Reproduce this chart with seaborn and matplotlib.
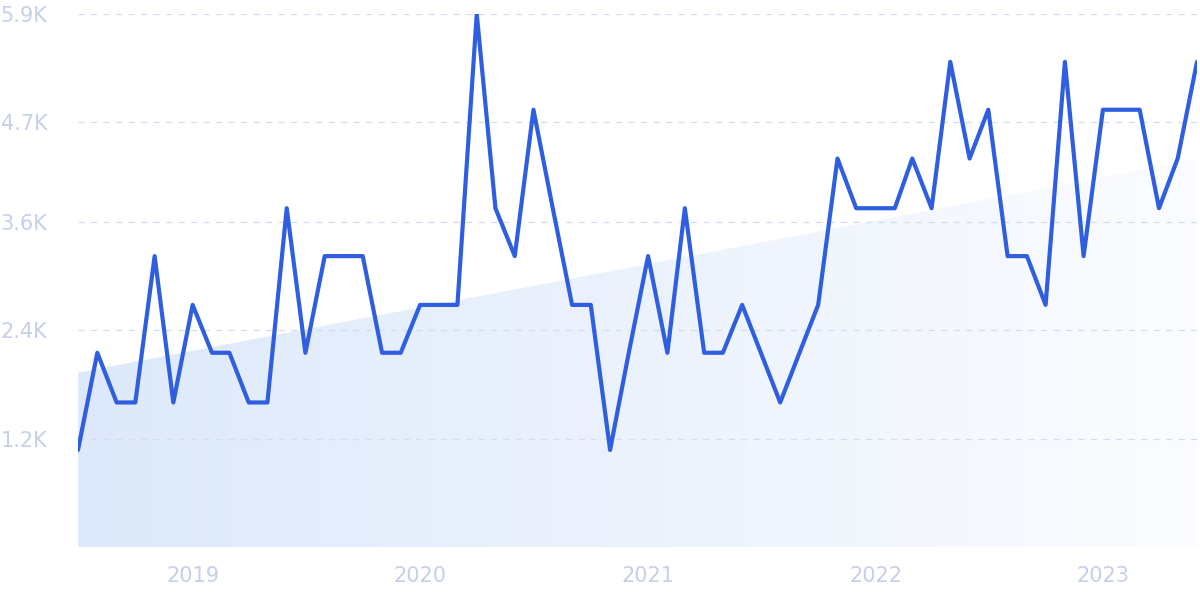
import numpy as np
import pandas as pd
import matplotlib
matplotlib.use("Agg")
import matplotlib.pyplot as plt
import matplotlib.dates as mdates
from matplotlib.patches import Polygon
import seaborn as sns

# data: monthly values Jul 2018 - Jun 2023
months = pd.date_range("2018-07-01", periods=60, freq="MS")
values = [1074, 2150, 1600, 1600, 3220, 1600, 2680, 2150, 2150, 1600,
          1600, 3750, 2150, 3220, 3220, 3220, 2150, 2150, 2680, 2680,
          2680, 5900, 3750, 3220, 4840, 3750, 2680, 2680, 1074, 2150,
          3220, 2150, 3750, 2150, 2150, 2680, 2150, 1600, 2150, 2680,
          4300, 3750, 3750, 3750, 4300, 3750, 5370, 4300, 4840, 3220,
          3220, 2680, 5370, 3220, 4840, 4840, 4840, 3750, 4300, 5370]
trend_start, trend_end = 1930, 4290
y_ticks = [1200, 2400, 3600, 4700, 5900]
y_tick_labels = ["1.2K", "2.4K", "3.6K", "4.7K", "5.9K"]
x_ticks = pd.to_datetime(["2019-01-01", "2020-01-01", "2021-01-01", "2022-01-01", "2023-01-01"])
x_tick_labels = ["2019", "2020", "2021", "2022", "2023"]

df = pd.DataFrame({"month": months, "value": values})

sns.set_style("white")
fig = plt.figure(figsize=(12, 6), dpi=100)
ax = fig.add_axes([0.065, 0.0883, 0.9325, 0.8884])

x0, x1 = mdates.date2num(months[0]), mdates.date2num(months[-1])

# gradient trend area
grad = np.linspace(0, 1, 256).reshape(1, -1)
cmap = matplotlib.colors.LinearSegmentedColormap.from_list("g", ["#dde9fa", "#fbfcff"])
im = ax.imshow(grad, extent=[x0, x1, 0, 5900], aspect="auto", cmap=cmap, zorder=0)
poly = Polygon([(x0, 0), (x0, trend_start), (x1, trend_end), (x1, 0)], closed=True,
               transform=ax.transData, facecolor="none", edgecolor="none")
ax.add_patch(poly)
im.set_clip_path(poly)

sns.lineplot(data=df, x="month", y="value", ax=ax, color="#2f5fe0", linewidth=3, zorder=3)

ax.set_xlim(x0, x1)
ax.set_ylim(0, 5900)
ax.set_yticks(y_ticks)
ax.set_yticklabels(y_tick_labels)
ax.set_xticks(x_ticks)
ax.set_xticklabels(x_tick_labels)
ax.set_xlabel("")
ax.set_ylabel("")
for y in y_ticks:
    ax.axhline(y, color="#d5dcef", linestyle=(0, (5, 5)), linewidth=0.9, zorder=1)
for s in ax.spines.values():
    s.set_visible(False)
ax.tick_params(axis="both", length=0, labelsize=15, labelcolor="#c7cfe8")
ax.tick_params(axis="x", pad=14)
ax.tick_params(axis="y", pad=22)

fig.savefig("out.png", dpi=100)
